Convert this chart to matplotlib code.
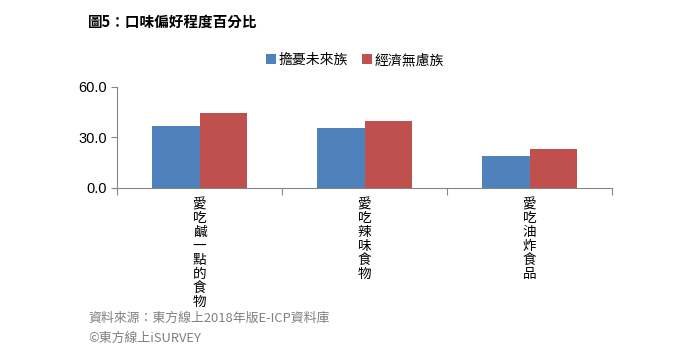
import matplotlib
matplotlib.use("Agg")
import matplotlib.pyplot as plt
import numpy as np

plt.rcParams['font.family'] = ['Noto Sans CJK TC', 'DejaVu Sans']

categories = ['愛吃鹹一點的食物', '愛吃辣味食物', '愛吃油炸食品']
series_names = ['擔憂未來族', '經濟無慮族']
worried = [36.7, 35.5, 19.0]
carefree = [44.3, 39.7, 22.8]
yticks = [0.0, 30.0, 60.0]

colors = ['#4F81BD', '#C0504D']
axis_col = '#868686'

fig = plt.figure(figsize=(7.0, 3.58), dpi=100)
ax = fig.add_axes([117 / 700, 1 - 187.5 / 358, (612 - 117) / 700, 100.5 / 358])

x = np.arange(len(categories))
w = 0.285
ax.bar(x - w / 2, worried, w, color=colors[0], label=series_names[0])
ax.bar(x + w / 2, carefree, w, color=colors[1], label=series_names[1])

ax.set_xlim(-0.5, len(categories) - 0.5)
ax.set_ylim(0, 60)
ax.set_yticks(yticks)
ax.set_yticklabels([f'{v:.1f}' for v in yticks], fontsize=10.5,
                   family=['Liberation Sans Narrow', 'Liberation Sans', 'DejaVu Sans'])

for s in ['top', 'right']:
    ax.spines[s].set_visible(False)
for s in ['left', 'bottom']:
    ax.spines[s].set_color(axis_col)
    ax.spines[s].set_linewidth(0.8)
ax.tick_params(axis='y', length=4, color=axis_col, width=0.8, pad=3)

# category separators as ticks on the x axis
ax.set_xticks(np.arange(len(categories) + 1) - 0.5)
ax.set_xticklabels([])
ax.tick_params(axis='x', length=5, color=axis_col, width=0.8, direction='out')

# vertical (stacked) category labels
for i, c in enumerate(categories):
    ax.annotate('\n'.join(c), xy=(x[i], 0), xycoords='data',
                xytext=(0, -7), textcoords='offset points',
                ha='center', va='top', fontsize=9.8, linespacing=1.0,
                color='#000000')

fig.text(88 / 700, 1 - 22 / 358, '圖5：口味偏好程度百分比', fontsize=10.5,
         fontweight='bold', ha='left', va='center')

fig.legend(loc='center', bbox_to_anchor=(355 / 700, 1 - 60 / 358), ncol=2,
           frameon=False, fontsize=10, handlelength=0.7, handleheight=0.7,
           handletextpad=0.2, columnspacing=1.0)

fig.text(88 / 700, 1 - 318 / 358, '資料來源：東方線上2018年版E-ICP資料庫', fontsize=9.3,
         color='#808080', ha='left', va='center')
fig.text(88 / 700, 1 - 338 / 358, '©東方線上iSURVEY', fontsize=9.3,
         color='#808080', ha='left', va='center')

fig.savefig('out.png', dpi=100)
